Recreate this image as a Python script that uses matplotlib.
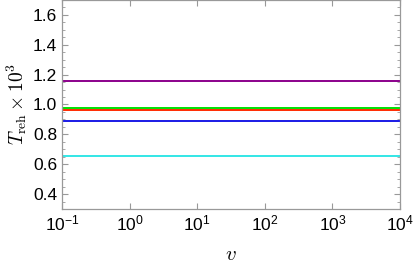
import numpy as np
import matplotlib
matplotlib.use("Agg")
import matplotlib.pyplot as plt
from matplotlib.ticker import MultipleLocator, LogLocator, NullLocator

plt.rcParams["mathtext.fontset"] = "cm"
plt.rcParams["font.family"] = ["Liberation Sans", "DejaVu Sans"]

# data: reheating temperature (x 10^3) vs v, constant for each case
v_range = [1e-1, 1e4]
t_purple = 1.157
t_green = 0.976
t_red = 0.966
t_blue = 0.887
t_cyan = 0.657

series = [
    (t_purple, "#8b008b"),
    (t_green, "#00e000"),
    (t_red, "#ff2a00"),
    (t_blue, "#1a1ae6"),
    (t_cyan, "#33e6e6"),
]

fig = plt.figure(figsize=(4.13, 2.70), dpi=100)
ax = fig.add_axes([0.150, 0.226, 0.8185, 0.774])

for t, c in series:
    ax.plot(v_range, [t, t], color=c, lw=1.4)

ax.set_xscale("log")
ax.set_xlim(1e-1, 1e4)
ax.set_ylim(0.3, 1.7)

ax.xaxis.set_major_locator(LogLocator(base=10, numticks=10))
ax.xaxis.set_minor_locator(NullLocator())
ax.yaxis.set_major_locator(MultipleLocator(0.2))
ax.yaxis.set_minor_locator(MultipleLocator(0.05))

gray = "#999999"
for s in ax.spines.values():
    s.set_color(gray)
    s.set_linewidth(0.9)
ax.tick_params(which="both", direction="in", color=gray, top=True, right=True,
               labelsize=12.5)
ax.tick_params(which="major", length=4)
ax.tick_params(which="minor", length=2)

ax.set_xlabel(r"$v$", fontsize=15, labelpad=8)
ax.set_ylabel(r"$T_{\rm reh}\times 10^3$", fontsize=14, labelpad=3)

fig.savefig("out.png", dpi=100)
